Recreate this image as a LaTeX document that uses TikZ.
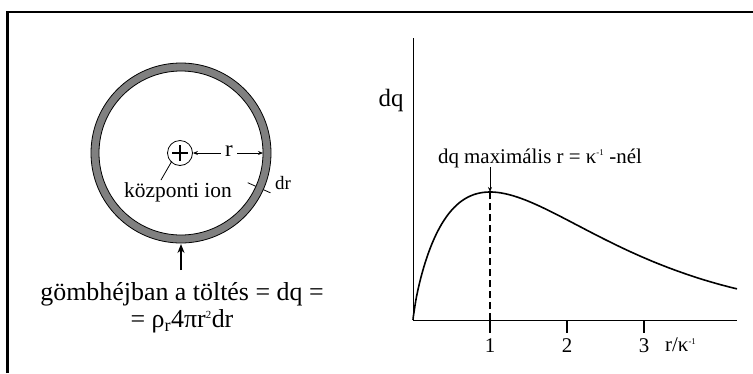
\documentclass[tikz,border=0pt]{standalone}
\usepackage{fontspec}
\setmainfont{Liberation Serif}
\usetikzlibrary{arrows.meta,positioning,calc}
\definecolor{shell}{HTML}{808080}
\newcommand{\upsc}[1]{\textsuperscript{\scalebox{0.6}{#1}}}

\tikzset{
  lbl/.style={inner sep=0pt, font=\fontsize{#1}{#1}\selectfont},
  dim/.style={-{Stealth[length=5pt,width=4pt]}, line width=0.8pt},
  tick/.style={line width=1.6pt}
}

\begin{document}
\begin{tikzpicture}[x=1bp, y=-1bp]
  \useasboundingbox (0,0) rectangle (753,373);
  % frame
  \draw[line width=3pt] (7.5,373) -- (7.5,12) -- (753,12);

  % shell
  \coordinate (c) at (181,153);
  \fill[shell, even odd rule] (c) circle (90) (c) circle (82);
  \draw[line width=0.8pt] (c) circle (90) (c) circle (82);
  \coordinate (inner) at ($(c)+(82,0)$);
  \coordinate (bot) at ($(c)+(0,91)$);
  \draw[line width=0.8pt] ($(c)+(24:73)$) -- ($(c)+(24:82)$)
                          ($(c)+(24:90)$) -- ($(c)+(24:98)$);
  \node[lbl=19, anchor=west] (dr) at (275,183) {dr};

  % central ion
  \node[circle, draw, line width=0.8pt, minimum size=25bp, inner sep=0pt] (ion) at (180,153) {};
  \draw[line width=1.6pt] ($(ion)+(-8,0)$) -- ($(ion)+(8,0)$)
                          ($(ion)+(0,-8)$) -- ($(ion)+(0,8)$);
  \node[lbl=23] (rlab) at (229,151) {r};
  \draw[dim] ($(rlab.west)+(-4,2)$) -- (ion.east);
  \draw[dim] ($(rlab.east)+(4,2)$) -- (inner);
  \node[lbl=21.5] (ionlab) at (178,192) {központi ion};
  \draw[line width=0.8pt] (ion.south west) ++(1,-1) -- (161,180);

  % charge in the shell
  \node[lbl=26, align=center] (charge) at (182,308)
    {gömbhéjban a töltés = dq =\\[1bp] = ρ\textsubscript{r}4πr\upsc{2}dr};
  \draw[-{Stealth[length=9pt,width=7pt]}, line width=2.2pt] (181,270) -- (bot);

  % graph
  \coordinate (o) at (413,320);
  \draw[line width=0.8pt] (413,38) -- (o) -- (737,320);
  \node[lbl=25] (ylab) at (391,101) {dq};
  \foreach \k in {1,2,3}
    { \draw[tick] ($(o)+(77*\k,0)$) -- ++(0,13);
      \node[lbl=21] (t\k) at ($(o)+(77*\k,26)$) {\k}; }
  \node[lbl=21, anchor=west] (xlab) at (665,345) {r/κ\upsc{-1}};
  \draw[line width=1.6pt, smooth] (o) -- plot[domain=0.003:4.21, samples=120]
    ({413+77*\x}, {320-128*pow(\x*exp(1-\x),0.8)});
  \coordinate (peak) at (490,192);
  \draw[tick, dashed, dash pattern=on 7pt off 4pt] ($(o)+(77,0)$) -- (peak);
  \node[lbl=21] (maxlab) at (540,158) {dq maximális r = κ\upsc{-1} -nél};
  \draw[-{Stealth[length=5pt,width=4pt]}, line width=0.8pt] (490,167) -- (peak);
\end{tikzpicture}
\end{document}
